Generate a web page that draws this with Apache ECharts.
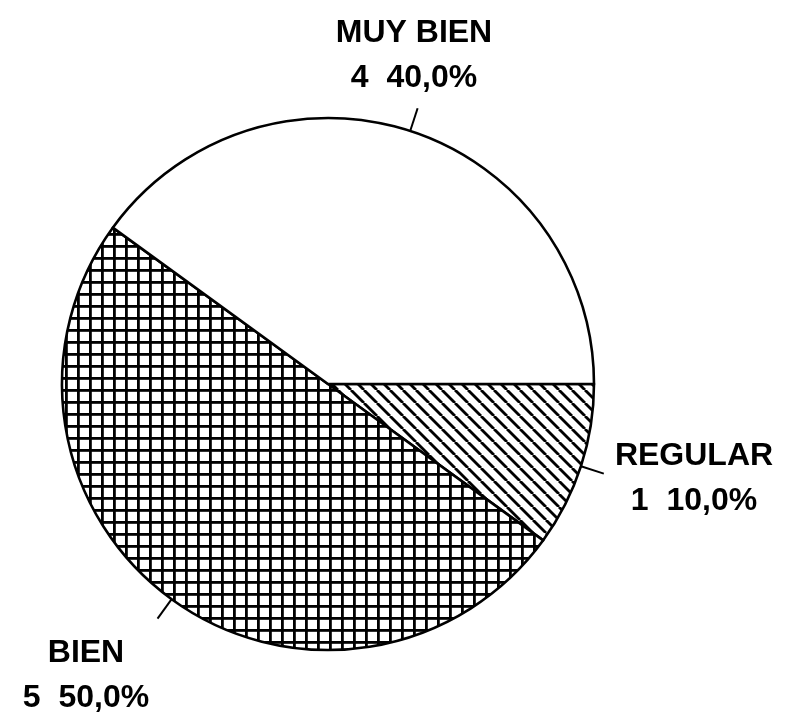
<!DOCTYPE html>
<html>
<head>
<meta charset="utf-8">
<script src="https://cdn.jsdelivr.net/npm/echarts@6/dist/echarts.min.js"></script>
<style>
  html, body { margin: 0; padding: 0; background: #ffffff; }
  #chart { width: 789px; height: 715px; }
</style>
</head>
<body>
<div id="chart"></div>
<script>
// Rating categories and how many answers fell in each
const categories = ['REGULAR', 'BIEN', 'MUY BIEN'];
const counts = [1, 5, 4];

// Tile patterns used as slice fills
function diagonalHatch() {
  const s = 13;
  const c = document.createElement('canvas');
  c.width = s; c.height = s;
  const g = c.getContext('2d');
  g.fillStyle = '#fff';
  g.fillRect(0, 0, s, s);
  g.strokeStyle = '#000';
  g.lineWidth = 2.8;
  for (let k = -1; k <= 1; k++) {
    g.beginPath();
    g.moveTo(k * s, 0);
    g.lineTo(k * s + s, s);
    g.stroke();
  }
  return c;
}

function gridHatch() {
  const s = 12;
  const c = document.createElement('canvas');
  c.width = s; c.height = s;
  const g = c.getContext('2d');
  g.fillStyle = '#fff';
  g.fillRect(0, 0, s, s);
  g.fillStyle = '#000';
  g.fillRect(5, 0, 2.8, s);
  g.fillRect(0, 5, s, 2.8);
  return c;
}

const fills = [
  { image: diagonalHatch(), repeat: 'repeat' },
  { image: gridHatch(), repeat: 'repeat' },
  '#ffffff'
];

// Where each two-line label block sits (centre of the text block)
const labelSpots = [[694, 479], [86, 676], [414, 56]];

const total = counts.reduce((a, b) => a + b, 0);
const pieData = categories.map((name, i) => ({
  name: name,
  value: counts[i],
  itemStyle: { color: fills[i] }
}));

const chart = echarts.init(document.getElementById('chart'), null, { renderer: 'canvas' });

chart.setOption({
  backgroundColor: '#ffffff',
  animation: false,
  series: [{
    type: 'pie',
    center: [328, 384],
    radius: 266,
    startAngle: 0,
    clockwise: true,
    avoidLabelOverlap: false,
    data: pieData,
    itemStyle: { borderColor: '#000', borderWidth: 2.6 },
    emphasis: { disabled: true },
    label: {
      show: true,
      position: 'outside',
      formatter: function (p) {
        const pct = (p.value / total * 100).toFixed(1).replace('.', ',');
        return p.name + '\n' + p.value + '  ' + pct + '%';
      },
      fontFamily: 'Liberation Sans, Arial, sans-serif',
      fontWeight: 'bold',
      fontSize: 32,
      lineHeight: 45,
      color: '#000'
    },
    labelLine: {
      show: true,
      length: 24,
      length2: 0,
      smooth: false,
      lineStyle: { color: '#000', width: 2 }
    },
    labelLayout: function (params) {
      const spot = labelSpots[params.dataIndex];
      const out = {
        x: spot[0],
        y: spot[1],
        align: 'center',
        verticalAlign: 'middle'
      };
      if (params.labelLinePoints) {
        out.labelLinePoints = [params.labelLinePoints[0], params.labelLinePoints[1]];
      }
      return out;
    }
  }]
});
</script>
</body>
</html>
